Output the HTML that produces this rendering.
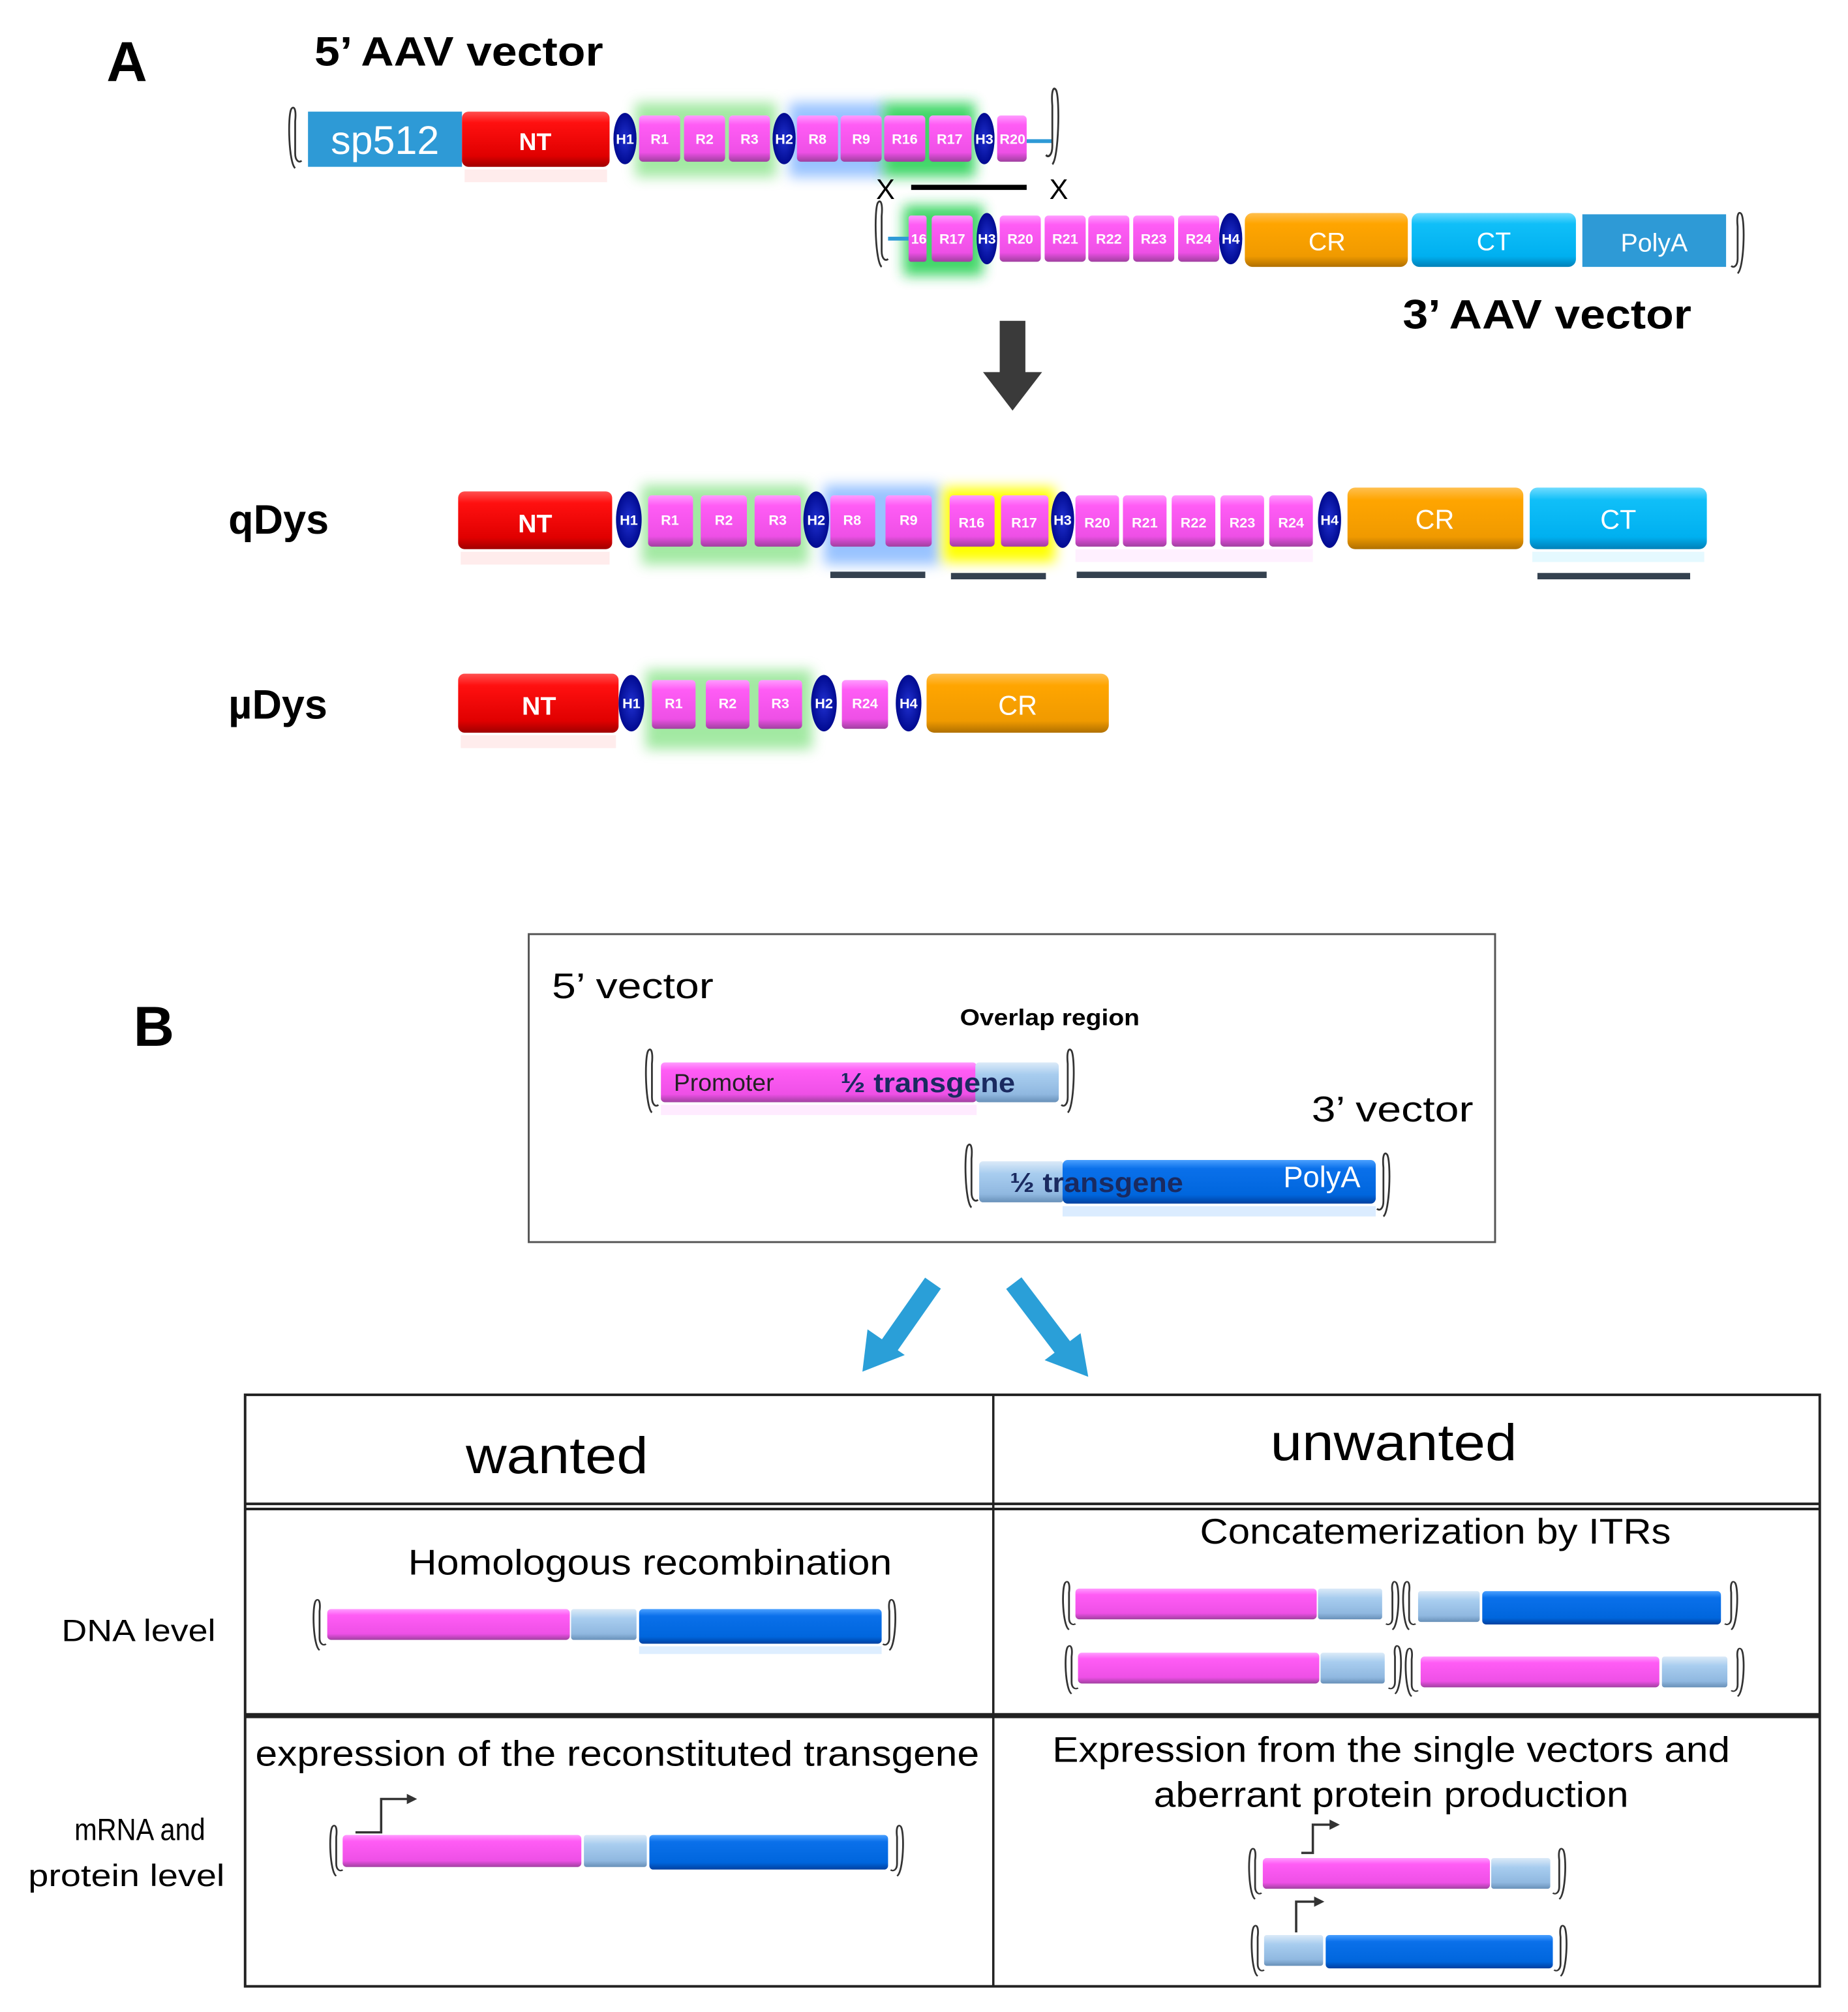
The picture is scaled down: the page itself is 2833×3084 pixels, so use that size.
<!DOCTYPE html>
<html><head><meta charset="utf-8"><style>html,body{margin:0;padding:0;background:#fff}svg{display:block}</style></head>
<body>
<svg xmlns="http://www.w3.org/2000/svg" xmlns:xlink="http://www.w3.org/1999/xlink" width="2833" height="3084" viewBox="0 0 1440 1568" preserveAspectRatio="none" font-family="Liberation Sans, sans-serif">
<defs>
<linearGradient id="gRed" x1="0" y1="0" x2="0" y2="1"><stop offset="0" stop-color="#ff5050"/><stop offset=".2" stop-color="#ff1010"/><stop offset=".8" stop-color="#e00000"/><stop offset="1" stop-color="#a00000"/></linearGradient>
<linearGradient id="gPink" x1="0" y1="0" x2="0" y2="1"><stop offset="0" stop-color="#ff9cff"/><stop offset=".2" stop-color="#ff5cf5"/><stop offset=".8" stop-color="#ee50e6"/><stop offset="1" stop-color="#a040a0"/></linearGradient>
<linearGradient id="gOr" x1="0" y1="0" x2="0" y2="1"><stop offset="0" stop-color="#ffc050"/><stop offset=".2" stop-color="#ffa500"/><stop offset=".8" stop-color="#f09a00"/><stop offset="1" stop-color="#b07000"/></linearGradient>
<linearGradient id="gCy" x1="0" y1="0" x2="0" y2="1"><stop offset="0" stop-color="#70dcff"/><stop offset=".2" stop-color="#10bff8"/><stop offset=".8" stop-color="#00b0f0"/><stop offset="1" stop-color="#0080b8"/></linearGradient>
<linearGradient id="gBl" x1="0" y1="0" x2="0" y2="1"><stop offset="0" stop-color="#4aa0ff"/><stop offset=".2" stop-color="#0a70ea"/><stop offset=".8" stop-color="#0066dd"/><stop offset="1" stop-color="#0040a0"/></linearGradient>
<linearGradient id="gLb" x1="0" y1="0" x2="0" y2="1"><stop offset="0" stop-color="#dbeaf8"/><stop offset=".3" stop-color="#a8cdef"/><stop offset=".8" stop-color="#90b8e0"/><stop offset="1" stop-color="#6890b8"/></linearGradient>
<radialGradient id="gH" cx=".5" cy=".5" r=".5"><stop offset="0" stop-color="#2030d0"/><stop offset="1" stop-color="#000a90"/></radialGradient>
<filter id="blur" x="-30%" y="-30%" width="160%" height="160%"><feGaussianBlur stdDeviation="5"/></filter>
<path id="itrL" d="M6,50 C1,46 0,8 3,2 C5,-1 7,2 6,12 L6,38 C6,44 9,46 11,44" fill="none" stroke="#333" stroke-width="1.4"/>
<path id="itrR" d="M5,50 C10,46 11,8 8,2 C6,-1 4,2 5,12 L5,38 C5,44 2,46 0,44" fill="none" stroke="#333" stroke-width="1.4"/>
</defs>

<!-- ===== Part A ===== -->
<text x="83" y="63" font-size="44" font-weight="bold">A</text>
<text x="245" y="51" font-size="32" font-weight="bold" textLength="225" lengthAdjust="spacingAndGlyphs">5’ AAV vector</text>

<rect x="495" y="80" width="110" height="58" fill="#7be07b" opacity=".7" filter="url(#blur)"/>
<rect x="615" y="80" width="75" height="58" fill="#7fb4ff" opacity=".8" filter="url(#blur)"/>
<rect x="688" y="80" width="72" height="58" fill="#20d050" opacity=".85" filter="url(#blur)"/>
<use xlink:href="#itrL" transform="translate(224,83) scale(1,0.96)"/>
<rect x="240" y="87" width="120" height="43" fill="#2e9ad6"/>
<text x="300" y="120" font-size="31" fill="#fff" text-anchor="middle">sp512</text>
<rect x="360" y="87" width="115" height="43" rx="5" fill="url(#gRed)"/>
<rect x="362" y="132" width="111" height="10" fill="#ff6060" opacity=".12"/>
<text x="417" y="117" font-size="19" fill="#fff" font-weight="bold" text-anchor="middle">NT</text>
<g font-size="11" fill="#fff" text-anchor="middle" font-weight="bold">
<ellipse cx="487" cy="108" rx="9" ry="20" fill="url(#gH)"/><text x="487" y="112">H1</text>
<rect x="498" y="90" width="32" height="36" rx="3" fill="url(#gPink)"/><text x="514" y="112">R1</text>
<rect x="533" y="90" width="32" height="36" rx="3" fill="url(#gPink)"/><text x="549" y="112">R2</text>
<rect x="568" y="90" width="32" height="36" rx="3" fill="url(#gPink)"/><text x="584" y="112">R3</text>
<ellipse cx="611" cy="108" rx="9" ry="20" fill="url(#gH)"/><text x="611" y="112">H2</text>
<rect x="621" y="90" width="32" height="36" rx="3" fill="url(#gPink)"/><text x="637" y="112">R8</text>
<rect x="655" y="90" width="32" height="36" rx="3" fill="url(#gPink)"/><text x="671" y="112">R9</text>
<rect x="689" y="90" width="32" height="36" rx="3" fill="url(#gPink)"/><text x="705" y="112">R16</text>
<rect x="724" y="90" width="33" height="36" rx="3" fill="url(#gPink)"/><text x="740" y="112">R17</text>
<ellipse cx="767" cy="108" rx="8" ry="20" fill="url(#gH)"/><text x="767" y="112">H3</text>
<rect x="777" y="90" width="23" height="36" rx="3" fill="url(#gPink)"/><text x="789" y="112">R20</text>
</g>
<line x1="800" y1="110" x2="820" y2="110" stroke="#2e9ad6" stroke-width="3"/>
<use xlink:href="#itrR" transform="translate(815,68) scale(1,1.2)"/>

<text x="690" y="155" font-size="22" text-anchor="middle">X</text>
<text x="825" y="155" font-size="22" text-anchor="middle">X</text>
<line x1="710" y1="146" x2="800" y2="146" stroke="#000" stroke-width="4"/>

<rect x="704" y="160" width="62" height="55" fill="#20d050" opacity=".85" filter="url(#blur)"/>
<use xlink:href="#itrL" transform="translate(681,156) scale(1,1.04)"/>
<line x1="692" y1="186" x2="708" y2="186" stroke="#2e9ad6" stroke-width="3"/>
<g font-size="11" fill="#fff" text-anchor="middle" font-weight="bold">
<rect x="708" y="168" width="14" height="36" rx="2" fill="url(#gPink)"/><text x="716" y="190">16</text>
<rect x="726" y="168" width="32" height="36" rx="3" fill="url(#gPink)"/><text x="742" y="190">R17</text>
<ellipse cx="769" cy="186" rx="8" ry="20" fill="url(#gH)"/><text x="769" y="190">H3</text>
<rect x="779" y="168" width="32" height="36" rx="3" fill="url(#gPink)"/><text x="795" y="190">R20</text>
<rect x="814" y="168" width="32" height="36" rx="3" fill="url(#gPink)"/><text x="830" y="190">R21</text>
<rect x="848" y="168" width="32" height="36" rx="3" fill="url(#gPink)"/><text x="864" y="190">R22</text>
<rect x="883" y="168" width="32" height="36" rx="3" fill="url(#gPink)"/><text x="899" y="190">R23</text>
<rect x="918" y="168" width="32" height="36" rx="3" fill="url(#gPink)"/><text x="934" y="190">R24</text>
<ellipse cx="959" cy="186" rx="9" ry="20" fill="url(#gH)"/><text x="959" y="190">H4</text>
</g>
<rect x="970" y="166" width="127" height="42" rx="6" fill="url(#gOr)"/>
<rect x="1100" y="166" width="128" height="42" rx="6" fill="url(#gCy)"/>
<rect x="1233" y="167" width="112" height="41" fill="#2e9ad6"/>
<g font-size="20" fill="#fff" text-anchor="middle">
<text x="1034" y="195">CR</text><text x="1164" y="195">CT</text><text x="1289" y="196">PolyA</text></g>
<use xlink:href="#itrR" transform="translate(1349,165) scale(1,0.96)"/>
<text x="1093" y="256" font-size="32" font-weight="bold" textLength="225" lengthAdjust="spacingAndGlyphs">3’ AAV vector</text>

<polygon points="779,250 799,250 799,290 812,290 789,320 766,290 779,290" fill="#3a3a3a"/>

<!-- qDys -->
<text x="178" y="416" font-size="32" font-weight="bold">qDys</text>
<rect x="500" y="378" width="130" height="62" fill="#7be07b" opacity=".7" filter="url(#blur)"/>
<rect x="642" y="378" width="90" height="62" fill="#7fb4ff" opacity=".8" filter="url(#blur)"/>
<rect x="735" y="380" width="87" height="58" fill="#ffff00" filter="url(#blur)"/>
<rect x="357" y="383" width="120" height="45" rx="5" fill="url(#gRed)"/>
<rect x="359" y="430" width="116" height="10" fill="#ff6060" opacity=".12"/>
<text x="417" y="415" font-size="20" fill="#fff" font-weight="bold" text-anchor="middle">NT</text>
<g font-size="11" fill="#fff" text-anchor="middle" font-weight="bold">
<ellipse cx="490" cy="405" rx="10" ry="22" fill="url(#gH)"/><text x="490" y="409">H1</text>
<rect x="505" y="386" width="35" height="40" rx="3" fill="url(#gPink)"/><text x="522" y="409">R1</text>
<rect x="546" y="386" width="36" height="40" rx="3" fill="url(#gPink)"/><text x="564" y="409">R2</text>
<rect x="588" y="386" width="36" height="40" rx="3" fill="url(#gPink)"/><text x="606" y="409">R3</text>
<ellipse cx="636" cy="405" rx="10" ry="22" fill="url(#gH)"/><text x="636" y="409">H2</text>
<rect x="647" y="386" width="35" height="40" rx="3" fill="url(#gPink)"/><text x="664" y="409">R8</text>
<rect x="690" y="386" width="36" height="40" rx="3" fill="url(#gPink)"/><text x="708" y="409">R9</text>
<rect x="740" y="386" width="35" height="40" rx="3" fill="url(#gPink)"/><text x="757" y="411">R16</text>
<rect x="780" y="386" width="37" height="40" rx="3" fill="url(#gPink)"/><text x="798" y="411">R17</text>
<ellipse cx="828" cy="405" rx="9" ry="22" fill="url(#gH)"/><text x="828" y="409">H3</text>
<rect x="838" y="386" width="34" height="40" rx="3" fill="url(#gPink)"/><text x="855" y="411">R20</text>
<rect x="875" y="386" width="34" height="40" rx="3" fill="url(#gPink)"/><text x="892" y="411">R21</text>
<rect x="913" y="386" width="34" height="40" rx="3" fill="url(#gPink)"/><text x="930" y="411">R22</text>
<rect x="951" y="386" width="34" height="40" rx="3" fill="url(#gPink)"/><text x="968" y="411">R23</text>
<rect x="989" y="386" width="34" height="40" rx="3" fill="url(#gPink)"/><text x="1006" y="411">R24</text>
<ellipse cx="1036" cy="405" rx="9" ry="22" fill="url(#gH)"/><text x="1036" y="409">H4</text>
</g>
<rect x="838" y="428" width="185" height="10" fill="#ff9cff" opacity=".15"/>
<rect x="1050" y="380" width="137" height="48" rx="6" fill="url(#gOr)"/>
<rect x="1192" y="380" width="138" height="48" rx="6" fill="url(#gCy)"/>
<rect x="1194" y="430" width="134" height="8" fill="#70dcff" opacity=".18"/>
<g font-size="21" fill="#fff" text-anchor="middle"><text x="1118" y="412">CR</text><text x="1261" y="412">CT</text></g>
<g stroke="#34414f" stroke-width="5">
<line x1="647" y1="448" x2="721" y2="448"/><line x1="741" y1="449" x2="815" y2="449"/>
<line x1="839" y1="448" x2="987" y2="448"/><line x1="1198" y1="449" x2="1317" y2="449"/></g>

<!-- µDys -->
<text x="178" y="560" font-size="32" font-weight="bold">µDys</text>
<rect x="503" y="522" width="130" height="62" fill="#7be07b" opacity=".7" filter="url(#blur)"/>
<rect x="357" y="525" width="125" height="46" rx="5" fill="url(#gRed)"/>
<rect x="359" y="573" width="121" height="10" fill="#ff6060" opacity=".12"/>
<text x="420" y="557" font-size="20" fill="#fff" font-weight="bold" text-anchor="middle">NT</text>
<g font-size="11" fill="#fff" text-anchor="middle" font-weight="bold">
<ellipse cx="492" cy="548" rx="10" ry="22" fill="url(#gH)"/><text x="492" y="552">H1</text>
<rect x="508" y="530" width="34" height="38" rx="3" fill="url(#gPink)"/><text x="525" y="552">R1</text>
<rect x="550" y="530" width="34" height="38" rx="3" fill="url(#gPink)"/><text x="567" y="552">R2</text>
<rect x="591" y="530" width="34" height="38" rx="3" fill="url(#gPink)"/><text x="608" y="552">R3</text>
<ellipse cx="642" cy="548" rx="10" ry="22" fill="url(#gH)"/><text x="642" y="552">H2</text>
<rect x="656" y="530" width="36" height="38" rx="3" fill="url(#gPink)"/><text x="674" y="552">R24</text>
<ellipse cx="708" cy="548" rx="10" ry="22" fill="url(#gH)"/><text x="708" y="552">H4</text>
</g>
<rect x="722" y="525" width="142" height="46" rx="6" fill="url(#gOr)"/>
<text x="793" y="557" font-size="21" fill="#fff" text-anchor="middle">CR</text>

<!-- ===== Part B ===== -->
<text x="104" y="815" font-size="44" font-weight="bold">B</text>
<rect x="412" y="728" width="753" height="240" fill="none" stroke="#555" stroke-width="1.5"/>
<text x="430" y="778" font-size="28" textLength="126" lengthAdjust="spacingAndGlyphs">5’ vector</text>
<text x="748" y="799" font-size="18" font-weight="bold" textLength="140" lengthAdjust="spacingAndGlyphs">Overlap region</text>
<text x="1022" y="874" font-size="28" textLength="126" lengthAdjust="spacingAndGlyphs">3’ vector</text>

<use xlink:href="#itrL" transform="translate(502,817)"/>
<rect x="515" y="828" width="246" height="31" rx="3" fill="url(#gPink)"/>
<rect x="515" y="861" width="246" height="8" fill="#ff9cff" opacity=".2"/>
<rect x="760" y="828" width="65" height="31" rx="3" fill="url(#gLb)"/>
<use xlink:href="#itrR" transform="translate(827,817)"/>
<text x="525" y="850" font-size="19" fill="#222">Promoter</text>
<text x="655" y="851" font-size="21" font-weight="bold" fill="#1a2a60" textLength="136" lengthAdjust="spacingAndGlyphs">½ transgene</text>

<use xlink:href="#itrL" transform="translate(751,891)"/>
<rect x="763" y="905" width="66" height="32" rx="3" fill="url(#gLb)"/>
<rect x="828" y="904" width="244" height="34" rx="4" fill="url(#gBl)"/>
<rect x="828" y="940" width="244" height="8" fill="#4aa0ff" opacity=".2"/>
<use xlink:href="#itrR" transform="translate(1073,898)"/>
<text x="787" y="929" font-size="21" font-weight="bold" fill="#1a2a60" textLength="135" lengthAdjust="spacingAndGlyphs">½ transgene</text>
<text x="1000" y="925" font-size="23" fill="#fff">PolyA</text>

<line x1="727" y1="1000" x2="692" y2="1050" stroke="#2a9fd8" stroke-width="15"/>
<polygon points="672,1069 676,1036 705,1056" fill="#2a9fd8"/>
<line x1="790" y1="1000" x2="828" y2="1050" stroke="#2a9fd8" stroke-width="15"/>
<polygon points="848,1073 814,1060 842,1039" fill="#2a9fd8"/>

<g stroke="#222" fill="none">
<rect x="191" y="1087" width="1227" height="461" stroke-width="2"/>
<line x1="191" y1="1172" x2="1418" y2="1172" stroke-width="2"/>
<line x1="191" y1="1176" x2="1418" y2="1176" stroke-width="2"/>
<line x1="191" y1="1337" x2="1418" y2="1337" stroke-width="4"/>
<line x1="774" y1="1087" x2="774" y2="1548" stroke-width="1.8"/>
</g>
<text x="363" y="1148" font-size="40" textLength="142" lengthAdjust="spacingAndGlyphs">wanted</text>
<text x="990" y="1138" font-size="40" textLength="192" lengthAdjust="spacingAndGlyphs">unwanted</text>
<text x="318" y="1227" font-size="28" textLength="377" lengthAdjust="spacingAndGlyphs">Homologous recombination</text>
<text x="935" y="1203" font-size="28" textLength="367" lengthAdjust="spacingAndGlyphs">Concatemerization by ITRs</text>
<text x="48" y="1279" font-size="24" textLength="120" lengthAdjust="spacingAndGlyphs">DNA level</text>
<text x="58" y="1434" font-size="24" textLength="102" lengthAdjust="spacingAndGlyphs">mRNA and</text>
<text x="22" y="1470" font-size="24" textLength="153" lengthAdjust="spacingAndGlyphs">protein level</text>
<text x="199" y="1376" font-size="28" textLength="564" lengthAdjust="spacingAndGlyphs">expression of the reconstituted transgene</text>
<text x="820" y="1373" font-size="28" textLength="528" lengthAdjust="spacingAndGlyphs">Expression from the single vectors and</text>
<text x="899" y="1408" font-size="28" textLength="370" lengthAdjust="spacingAndGlyphs">aberrant protein production</text>

<use xlink:href="#itrL" transform="translate(243,1246) scale(1,0.8)"/>
<rect x="255" y="1254" width="189" height="24" rx="3" fill="url(#gPink)"/>
<rect x="445" y="1254" width="51" height="24" rx="2" fill="url(#gLb)"/>
<rect x="498" y="1254" width="189" height="27" rx="3" fill="url(#gBl)"/>
<rect x="498" y="1283" width="189" height="6" fill="#4aa0ff" opacity=".18"/>
<use xlink:href="#itrR" transform="translate(688,1246) scale(1,0.8)"/>

<use xlink:href="#itrL" transform="translate(827,1232) scale(1,0.76)"/>
<rect x="838" y="1238" width="188" height="24" rx="3" fill="url(#gPink)"/>
<rect x="1027" y="1238" width="50" height="24" rx="2" fill="url(#gLb)"/>
<use xlink:href="#itrR" transform="translate(1080,1232) scale(1,0.76)"/>
<use xlink:href="#itrL" transform="translate(1092,1232) scale(1,0.76)"/>
<rect x="1105" y="1240" width="48" height="24" rx="2" fill="url(#gLb)"/>
<rect x="1155" y="1240" width="186" height="26" rx="3" fill="url(#gBl)"/>
<use xlink:href="#itrR" transform="translate(1344,1232) scale(1,0.76)"/>
<use xlink:href="#itrL" transform="translate(829,1282) scale(1,0.76)"/>
<rect x="840" y="1288" width="188" height="24" rx="3" fill="url(#gPink)"/>
<rect x="1029" y="1288" width="50" height="24" rx="2" fill="url(#gLb)"/>
<use xlink:href="#itrR" transform="translate(1082,1282) scale(1,0.76)"/>
<use xlink:href="#itrL" transform="translate(1094,1284) scale(1,0.76)"/>
<rect x="1107" y="1291" width="186" height="24" rx="3" fill="url(#gPink)"/>
<rect x="1295" y="1291" width="51" height="24" rx="2" fill="url(#gLb)"/>
<use xlink:href="#itrR" transform="translate(1349,1284) scale(1,0.76)"/>

<use xlink:href="#itrL" transform="translate(256,1422) scale(1,0.8)"/>
<rect x="267" y="1430" width="186" height="25" rx="3" fill="url(#gPink)"/>
<rect x="455" y="1430" width="49" height="25" rx="2" fill="url(#gLb)"/>
<rect x="506" y="1430" width="186" height="27" rx="3" fill="url(#gBl)"/>
<use xlink:href="#itrR" transform="translate(694,1422) scale(1,0.8)"/>
<path d="M277,1428 L297,1428 L297,1402 L318,1402" fill="none" stroke="#333" stroke-width="1.8"/>
<polygon points="325,1402 317,1398 317,1406" fill="#333"/>

<use xlink:href="#itrL" transform="translate(972,1440) scale(1,0.8)"/>
<rect x="984" y="1448" width="177" height="24" rx="3" fill="url(#gPink)"/>
<rect x="1162" y="1448" width="46" height="24" rx="2" fill="url(#gLb)"/>
<use xlink:href="#itrR" transform="translate(1210,1440) scale(1,0.8)"/>
<path d="M1014,1444 L1023,1444 L1023,1422 L1037,1422" fill="none" stroke="#333" stroke-width="1.8"/>
<polygon points="1044,1422 1036,1418 1036,1426" fill="#333"/>

<use xlink:href="#itrL" transform="translate(974,1500) scale(1,0.8)"/>
<rect x="985" y="1508" width="46" height="24" rx="2" fill="url(#gLb)"/>
<rect x="1033" y="1508" width="177" height="26" rx="3" fill="url(#gBl)"/>
<use xlink:href="#itrR" transform="translate(1211,1500) scale(1,0.8)"/>
<path d="M1010,1506 L1010,1482 L1025,1482" fill="none" stroke="#333" stroke-width="1.8"/>
<polygon points="1032,1482 1024,1478 1024,1486" fill="#333"/>
</svg>
</body></html>
